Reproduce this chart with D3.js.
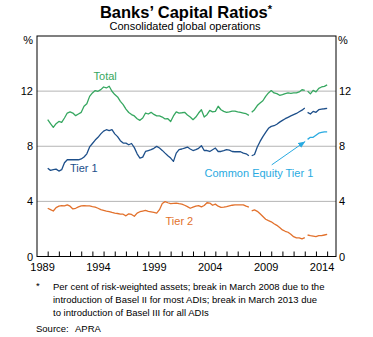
<!DOCTYPE html>
<html>
<head>
<meta charset="utf-8">
<script src="https://cdn.jsdelivr.net/npm/d3@7"></script>
<style>
  body { margin: 0; background: #fff; }
  svg { display: block; font-family: "Liberation Sans", Arial, sans-serif; }
</style>
</head>
<body>
<svg id="chart" width="373" height="337"></svg>
<script>
// quarterly series, each break (Basel II in Mar 2008, Basel III in Mar 2013) starts a new segment
const segmentStarts = [1989.958, 2008.208, 2013.208];

const total = [
  [9.93, 9.64, 9.37, 9.64, 9.80, 9.73, 10.05, 10.41, 10.49, 10.41, 10.22, 10.34, 10.46, 10.9, 11.09, 11.62,
   11.87, 12.04, 11.99, 12.11, 12.3, 12.23, 12.35, 11.99, 11.75, 11.58, 11.26, 11.02, 10.7, 10.45, 10.3, 10.2,
   10.0, 9.88, 10.05, 10.41, 10.34, 10.46, 10.31, 10.2, 10.2, 10.12, 9.98, 10.0, 9.8, 10.2, 10.5, 10.41,
   10.43, 10.46, 10.27, 10.12, 9.93, 10.12, 10.41, 10.65, 10.12, 10.29, 10.6, 10.5, 10.53, 10.9, 10.65, 10.53,
   10.46, 10.5, 10.55, 10.55, 10.5, 10.46, 10.41, 10.36, 10.24],
  [10.46, 10.65, 10.95, 11.14, 11.3, 11.62, 11.87, 12.04, 11.87, 11.82, 11.7, 11.75, 11.82, 11.87, 11.84, 11.87,
   11.87, 11.94, 12.1, 12.05],
  [12.0, 11.8, 12.05, 11.95, 12.2, 12.3, 12.35, 12.45]
];

const tier1 = [
  [6.4, 6.25, 6.3, 6.34, 6.2, 6.3, 6.8, 7.02, 7.02, 7.02, 7.02, 7.02, 7.08, 7.22, 7.45, 7.95,
   8.2, 8.45, 8.65, 8.9, 9.1, 9.2, 9.13, 9.2, 8.9, 8.7, 8.4, 8.23, 8.23, 8.11, 8.2, 7.9,
   7.45, 7.14, 7.21, 7.62, 7.69, 7.75, 7.85, 7.99, 7.87, 7.7, 7.5, 7.31, 7.14, 6.9, 7.5, 7.75,
   7.8, 7.87, 7.94, 7.8, 7.69, 7.75, 7.85, 8.04, 7.69, 7.69, 7.62, 7.75, 7.87, 7.62, 7.62, 7.68,
   7.75, 7.72, 7.62, 7.6, 7.6, 7.6, 7.5, 7.45, 7.31],
  [7.31, 7.4, 7.95, 8.35, 8.7, 9.0, 9.3, 9.44, 9.49, 9.6, 9.75, 9.88, 10.0, 10.1, 10.2, 10.29,
   10.38, 10.5, 10.62, 10.78],
  [10.46, 10.34, 10.53, 10.46, 10.65, 10.7, 10.72, 10.75]
];

const tier2 = [
  [3.5, 3.4, 3.3, 3.55, 3.65, 3.69, 3.67, 3.75, 3.65, 3.45, 3.5, 3.6, 3.67, 3.69, 3.68, 3.67,
   3.62, 3.58, 3.5, 3.4, 3.35, 3.3, 3.26, 3.2, 3.15, 3.12, 3.08, 3.07, 2.95, 3.1, 3.05, 2.92,
   3.15, 3.25, 3.3, 3.35, 3.28, 3.24, 3.2, 3.15, 3.4, 3.85, 3.98, 3.9, 3.83, 3.85, 3.87, 3.83,
   3.8, 3.72, 3.62, 3.5, 3.58, 3.66, 3.69, 3.6, 3.7, 3.9, 3.88, 3.72, 3.8, 3.65, 3.56, 3.58,
   3.62, 3.67, 3.72, 3.75, 3.75, 3.75, 3.75, 3.65, 3.58],
  [3.31, 3.38, 3.28, 3.1, 2.9, 2.7, 2.6, 2.52, 2.38, 2.26, 2.1, 1.93, 1.83, 1.76, 1.61, 1.44,
   1.35, 1.35, 1.28, 1.37],
  [1.56, 1.51, 1.48, 1.44, 1.51, 1.51, 1.56, 1.61]
];

// CET1 only reported from Basel III onwards
const cet1 = [null, null, [8.5, 8.65, 8.65, 8.8, 8.95, 9.0, 9.05, 9.05]];

const yTicks = [0, 4, 8, 12];
const yearLabels = [1989, 1994, 1999, 2004, 2009, 2014];

const colors = {
  total: "#36a760",
  tier1: "#1d4f8a",
  tier2: "#e2712c",
  cet1: "#29aae1"
};

const svg = d3.select("#chart");
const plotLeft = 37, plotRight = 336, plotTop = 36, plotBottom = 256.5;

const x = d3.scaleLinear().domain([1989, 2015.75]).range([plotLeft, plotRight]);
const y = d3.scaleLinear().domain([0, 16]).range([plotBottom, plotTop]);

// title
const title = svg.append("text")
  .attr("x", 186).attr("y", 18)
  .attr("text-anchor", "middle")
  .attr("font-size", 16.5).attr("font-weight", "bold")
  .attr("fill", "#000");
title.append("tspan").text("Banks’ Capital Ratios");
title.append("tspan").attr("font-size", 11).attr("dy", -5).text("*");

svg.append("text")
  .attr("x", 185).attr("y", 30)
  .attr("text-anchor", "middle")
  .attr("font-size", 11)
  .text("Consolidated global operations");

// gridlines
svg.append("g").selectAll("line")
  .data(yTicks.filter(d => d > 0))
  .enter().append("line")
  .attr("x1", plotLeft).attr("x2", plotRight)
  .attr("y1", d => y(d)).attr("y2", d => y(d))
  .attr("stroke", "#b4b4b4").attr("stroke-width", 1);

// y labels on both sides
svg.append("g").selectAll("text")
  .data(yTicks).enter().append("text")
  .attr("x", plotLeft - 4).attr("y", d => y(d) + 4)
  .attr("text-anchor", "end").attr("font-size", 11)
  .text(d => d);
svg.append("g").selectAll("text")
  .data(yTicks).enter().append("text")
  .attr("x", plotRight + 3).attr("y", d => y(d) + 4)
  .attr("text-anchor", "start").attr("font-size", 11)
  .text(d => d);
svg.append("text").attr("x", plotLeft - 4).attr("y", 44)
  .attr("text-anchor", "end").attr("font-size", 11).text("%");
svg.append("text").attr("x", plotRight + 2).attr("y", 44)
  .attr("text-anchor", "start").attr("font-size", 11).text("%");

// year ticks point into the plot
svg.append("g").selectAll("line")
  .data(d3.range(1990, 2016))
  .enter().append("line")
  .attr("x1", d => x(d)).attr("x2", d => x(d))
  .attr("y1", plotBottom).attr("y2", plotBottom - 5)
  .attr("stroke", "#000");

svg.append("g").selectAll("text")
  .data(yearLabels).enter().append("text")
  .attr("x", d => x(d + 0.5)).attr("y", 271)
  .attr("text-anchor", "middle").attr("font-size", 11)
  .text(d => d);

// series
const line = d3.line()
  .x(d => x(d[0]))
  .y(d => y(d[1]));

function drawSeries(segments, color) {
  segments.forEach((values, i) => {
    if (!values) return;
    const pts = values.map((v, j) => [segmentStarts[i] + j * 0.25, v]);
    svg.append("path")
      .datum(pts)
      .attr("d", line)
      .attr("fill", "none")
      .attr("stroke", color)
      .attr("stroke-width", 1.3)
      .attr("stroke-linejoin", "round");
  });
}

drawSeries(tier2, colors.tier2);
drawSeries(tier1, colors.tier1);
drawSeries(total, colors.total);
drawSeries(cet1, colors.cet1);

// frame
svg.append("rect")
  .attr("x", plotLeft).attr("y", plotTop)
  .attr("width", plotRight - plotLeft).attr("height", plotBottom - plotTop)
  .attr("fill", "none").attr("stroke", "#000").attr("stroke-width", 1);

// series labels
function label(text, t, v, color, anchor) {
  svg.append("text")
    .attr("x", x(t)).attr("y", y(v))
    .attr("text-anchor", anchor || "middle")
    .attr("font-size", 11)
    .attr("fill", color)
    .text(text);
}
label("Total", 1995.1, 12.8, colors.total);
label("Tier 1", 1991.95, 6.1, colors.tier1, "start");
label("Tier 2", 2000.5, 2.3, colors.tier2, "start");
label("Common Equity Tier 1", 2008.85, 5.8, colors.cet1);

// arrow from the CET1 label to the start of its line
svg.append("defs").append("marker")
  .attr("id", "arrow")
  .attr("viewBox", "0 -5 10 10")
  .attr("refX", 10).attr("refY", 0)
  .attr("markerWidth", 7).attr("markerHeight", 7)
  .attr("orient", "auto")
  .append("path")
  .attr("d", "M0,-4L10,0L0,4Z")
  .attr("fill", colors.cet1);

svg.append("line")
  .attr("x1", x(2010.0)).attr("y1", y(6.65))
  .attr("x2", x(2013.0)).attr("y2", y(8.35))
  .attr("stroke", colors.cet1).attr("stroke-width", 1)
  .attr("marker-end", "url(#arrow)");

// footnotes
const notes = svg.append("g").attr("font-size", 9.5).attr("fill", "#000");
notes.append("text").attr("x", 36).attr("y", 289).text("*");
const noteLines = [
  "Per cent of risk-weighted assets; break in March 2008 due to the",
  "introduction of Basel II for most ADIs; break in March 2013 due",
  "to introduction of Basel III for all ADIs"
];
notes.selectAll("text.note")
  .data(noteLines).enter().append("text")
  .attr("class", "note")
  .attr("x", 53).attr("y", (d, i) => 290 + i * 13.2)
  .text(d => d);
notes.append("text").attr("x", 36).attr("y", 332).text("Source:");
notes.append("text").attr("x", 75).attr("y", 332).text("APRA");
</script>
</body>
</html>
